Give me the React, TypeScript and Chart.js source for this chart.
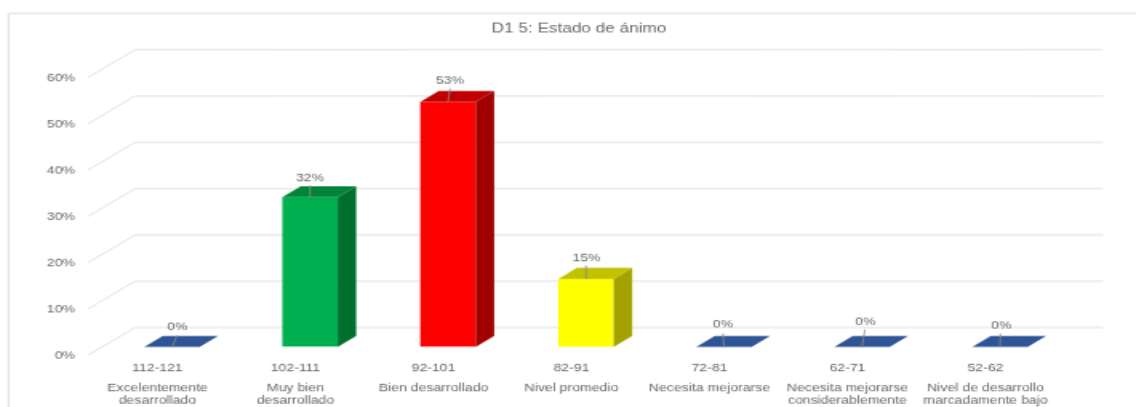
import React, { useEffect, useRef } from "react";
import { Chart, registerables } from "chart.js";

Chart.register(...registerables);

const rangeLabels = ["112-121", "102-111", "92-101", "82-91", "72-81", "62-71", "52-62"];
const levelLabels = [
  ["Excelentemente", "desarrollado"],
  ["Muy bien", "desarrollado"],
  ["Bien desarrollado"],
  ["Nivel promedio"],
  ["Necesita mejorarse"],
  ["Necesita mejorarse", "considerablemente"],
  ["Nivel de desarrollo", "marcadamente bajo"],
];
const percentages = [0, 32.35, 52.94, 14.7, 0, 0, 0];
const valueLabels = ["0%", "32%", "53%", "15%", "0%", "0%", "0%"];
const frontColors = ["#2f5597", "#00b050", "#ff0000", "#ffff00", "#2f5597", "#2f5597", "#2f5597"];
const topColors = ["#2f5597", "#008437", "#c00000", "#c2c200", "#2f5597", "#2f5597", "#2f5597"];
const sideColors = ["#2f5597", "#006f2e", "#a00000", "#a3a300", "#2f5597", "#2f5597", "#2f5597"];

// Placement of each value label relative to its bar's top-centre, in page pixels
const labelShiftX = [5.5, 0, 2, 0.5, -1, 3.5, 1.5];
const labelShiftY = [-19.5, -19, -21, -21, -22, -24.5, -21];
const leaderEndX = [5, 0, 2, 0, -1, 3, 0.5];
const leaderEndY = [-11.5, -12, -13.5, -13.5, -13.5, -17.5, -13.5];

// The picture is a low-resolution image stretched up: draw small and enlarge the same way
const SX = 1.6;
const SY = 1.25;
const W = 710;
const H = 326;
const px = (v: number) => v / SX;
const py = (v: number) => v / SY;

const AREA = { left: 103, right: 1069, top: 69.3, bottom: 346.5 };
const TITLE_LEFT = 22;
const TEXT = "#666666";
const GRID = "#dedede";
const FONT = "'Liberation Sans', Arial, sans-serif";

const scene3d = {
  id: "scene3d",
  beforeDraw(chart: any) {
    const { ctx } = chart;
    ctx.save();
    ctx.strokeStyle = "#d4d4d4";
    ctx.lineWidth = 0.8;
    ctx.beginPath();
    ctx.moveTo(px(8.5), H);
    ctx.lineTo(px(8.5), py(13.5));
    ctx.lineTo(W, py(13.5));
    ctx.stroke();
    ctx.restore();
  },
  beforeDatasetsDraw(chart: any) {
    const { ctx, scales } = chart;
    ctx.save();
    ctx.strokeStyle = GRID;
    ctx.lineWidth = 0.9;
    for (const t of scales.y.ticks) {
      const y = scales.y.getPixelForValue(t.value);
      ctx.beginPath();
      ctx.moveTo(px(88), y + py(8.2));
      ctx.lineTo(px(135), y - py(19.5));
      ctx.lineTo(px(1103), y - py(19.5));
      ctx.stroke();
    }
    ctx.restore();
  },
  afterDatasetsDraw(chart: any) {
    const { ctx } = chart;
    const dx = px(18.5);
    const dy = py(11);
    const bars = chart.getDatasetMeta(0).data;
    ctx.save();
    bars.forEach((b: any, i: number) => {
      const l = b.x - b.width / 2;
      const r = b.x + b.width / 2;
      ctx.fillStyle = topColors[i];
      ctx.beginPath();
      ctx.moveTo(l, b.y);
      ctx.lineTo(r, b.y);
      ctx.lineTo(r + dx, b.y - dy);
      ctx.lineTo(l + dx, b.y - dy);
      ctx.closePath();
      ctx.fill();
      if (percentages[i] > 0) {
        ctx.fillStyle = sideColors[i];
        ctx.beginPath();
        ctx.moveTo(r, b.y);
        ctx.lineTo(r + dx, b.y - dy);
        ctx.lineTo(r + dx, b.base - dy);
        ctx.lineTo(r, b.base);
        ctx.closePath();
        ctx.fill();
      }
      ctx.strokeStyle = "#8c8c8c";
      ctx.lineWidth = 0.8;
      ctx.beginPath();
      ctx.moveTo(b.x, b.y);
      ctx.lineTo(b.x + px(leaderEndX[i]), b.y + py(leaderEndY[i]));
      ctx.stroke();
      ctx.fillStyle = TEXT;
      ctx.font = `8.8px ${FONT}`;
      ctx.textAlign = "center";
      ctx.textBaseline = "middle";
      ctx.fillText(valueLabels[i], b.x + px(labelShiftX[i]), b.y + py(labelShiftY[i]));
    });
    ctx.restore();
  },
};

export default function App() {
  const ref = useRef<HTMLCanvasElement | null>(null);
  useEffect(() => {
    const chart = new Chart(ref.current as HTMLCanvasElement, {
      type: "bar",
      data: {
        labels: rangeLabels,
        datasets: [
          {
            data: percentages,
            backgroundColor: frontColors,
            borderWidth: 0,
            categoryPercentage: 1,
            barPercentage: 55.4 / 138,
            xAxisID: "x",
            yAxisID: "y",
          },
        ],
      },
      options: {
        responsive: false,
        animation: false,
        devicePixelRatio: 1,
        layout: { padding: { left: px(TITLE_LEFT), right: 0, top: 0, bottom: 0 } },
        plugins: {
          legend: { display: false },
          tooltip: { enabled: false },
          title: {
            display: true,
            text: "D1 5: Estado de ánimo",
            color: TEXT,
            font: { family: FONT, size: 10.75, weight: "normal", lineHeight: 1.2 },
            padding: { top: py(29) - 6.45, bottom: py(AREA.top) - py(29) - 6.45 },
          },
        },
        scales: {
          y: {
            min: 0,
            max: 60,
            position: "left",
            afterFit: (s: any) => {
              s.width = px(AREA.left - TITLE_LEFT);
            },
            grid: { display: false, drawTicks: false },
            border: { display: false },
            ticks: {
              stepSize: 10,
              padding: px(28),
              labelOffset: py(9.2),
              color: TEXT,
              font: { family: FONT, size: 8.8 },
              callback: (v: any) => `${v}%`,
            },
          },
          spacer: {
            position: "right",
            afterFit: (s: any) => {
              s.width = px(1136 - AREA.right);
            },
            grid: { display: false, drawTicks: false },
            border: { display: false },
            ticks: { display: false },
          },
          x: {
            type: "category",
            position: "bottom",
            labels: rangeLabels,
            afterFit: (s: any) => {
              s.height = py(30);
            },
            grid: { display: false, drawTicks: false },
            border: { display: false },
            ticks: {
              autoSkip: false,
              maxRotation: 0,
              padding: py(15),
              labelOffset: px(-14.5),
              color: TEXT,
              font: { family: FONT, size: 8.8 },
            },
          },
          x2: {
            type: "category",
            position: "bottom",
            labels: levelLabels as any,
            afterFit: (s: any) => {
              s.height = py(407 - AREA.bottom - 30);
            },
            grid: { display: false, drawTicks: false },
            border: { display: false },
            ticks: {
              autoSkip: false,
              maxRotation: 0,
              padding: py(5),
              labelOffset: px(-14.5),
              color: TEXT,
              font: { family: FONT, size: 8.8, lineHeight: 1.14 },
            },
          },
        },
      } as any,
      plugins: [scene3d],
    });
    return () => chart.destroy();
  }, []);

  return (
    <div
      style={{
        position: "absolute",
        left: 0,
        top: 0,
        width: 1136,
        height: 407,
        overflow: "hidden",
        background: "#fff",
      }}
    >
      <div
        style={{
          width: W,
          height: H,
          transform: `scale(${SX}, ${SY})`,
          transformOrigin: "0 0",
          filter: "blur(0.25px)",
        }}
      >
        <canvas ref={ref} width={W} height={H} />
      </div>
    </div>
  );
}
